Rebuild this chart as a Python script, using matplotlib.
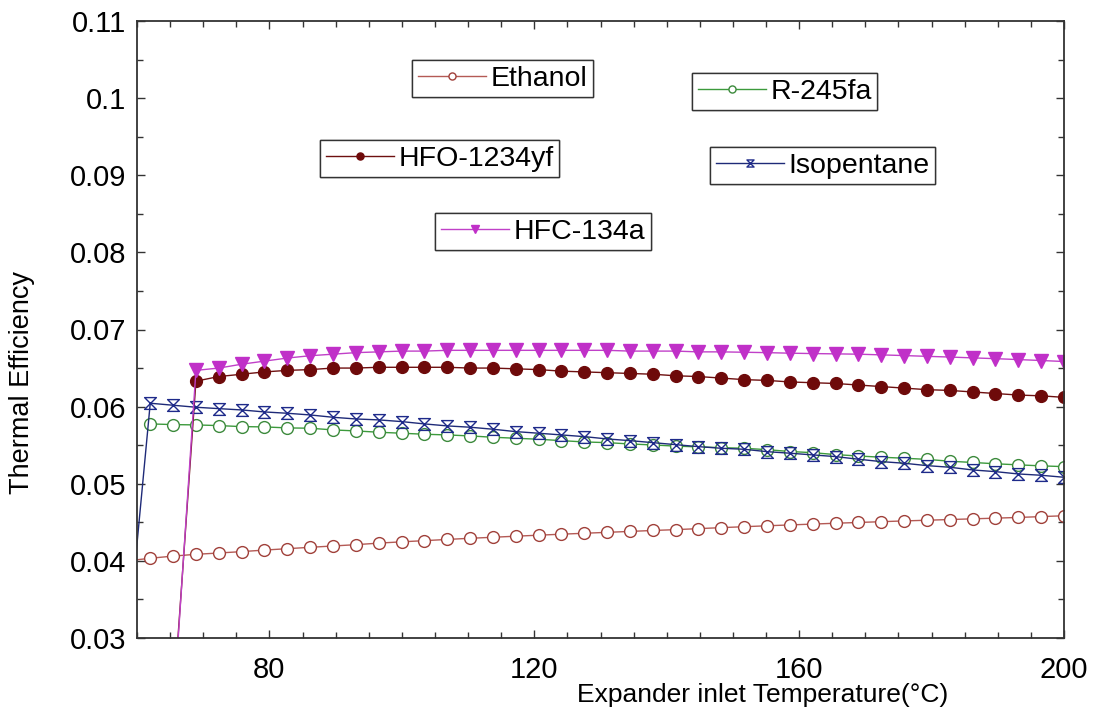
import numpy as np
import matplotlib
matplotlib.use("Agg")
import matplotlib.pyplot as plt
from matplotlib.path import Path
from matplotlib.ticker import MultipleLocator, FuncFormatter

plt.rcParams['font.family'] = ['Liberation Sans', 'DejaVu Sans']

# Expander inlet temperature (°C)
temperature = [58.55, 62.0, 65.45, 68.9, 72.35, 75.8, 79.25, 82.7, 86.15, 89.6, 93.05,
               96.5, 99.95, 103.4, 106.85, 110.3, 113.75, 117.2, 120.65, 124.1, 127.55,
               131.0, 134.45, 137.9, 141.35, 144.8, 148.25, 151.7, 155.15, 158.6, 162.05,
               165.5, 168.95, 172.4, 175.85, 179.3, 182.75, 186.2, 189.65, 193.1, 196.55, 200.0]

nan = float('nan')

ethanol = [0.0400,
           0.04034, 0.04062, 0.04085, 0.04102, 0.04120, 0.04140, 0.04158, 0.04176, 0.04193, 0.04210,
           0.04230, 0.04247, 0.04262, 0.04278, 0.04293, 0.04306, 0.04320, 0.04333, 0.04346, 0.04358,
           0.04370, 0.04382, 0.04394, 0.04405, 0.04418, 0.04431, 0.04443, 0.04455, 0.04466, 0.04477,
           0.04488, 0.04498, 0.04508, 0.04518, 0.04527, 0.04536, 0.04545, 0.04554, 0.04563, 0.04574,
           0.04585]

r245fa = [nan,
          0.05776, 0.05767, 0.05763, 0.05754, 0.05741, 0.05737, 0.05724, 0.05720, 0.05698, 0.05685,
          0.05668, 0.05655, 0.05642, 0.05633, 0.05620, 0.05603, 0.05590, 0.05577, 0.05559, 0.05542,
          0.05533, 0.05516, 0.05503, 0.05488, 0.05478, 0.05468, 0.05460, 0.05442, 0.05418, 0.05403,
          0.05378, 0.05360, 0.05344, 0.05331, 0.05316, 0.05292, 0.05276, 0.05259, 0.05245, 0.05232,
          0.05222]

hfo1234yf = [nan, nan, 0.0210,
             0.0633, 0.0639, 0.0642, 0.0645, 0.0647, 0.0648, 0.0650, 0.0650, 0.0651, 0.0651,
             0.0651, 0.0651, 0.0650, 0.0650, 0.0649, 0.0648, 0.0646, 0.0645, 0.0644, 0.0643,
             0.0642, 0.0640, 0.0639, 0.0637, 0.0635, 0.0634, 0.0632, 0.0631, 0.0630, 0.0628,
             0.0626, 0.0624, 0.0622, 0.0621, 0.0619, 0.0617, 0.0615, 0.0614, 0.0612]

isopentane = [0.0290,
              0.06044, 0.06018, 0.05992, 0.05974, 0.05957, 0.05931, 0.05914, 0.05892, 0.05862, 0.05840,
              0.05828, 0.05806, 0.05776, 0.05750, 0.05733, 0.05707, 0.05676, 0.05655, 0.05633, 0.05611,
              0.05581, 0.05559, 0.05533, 0.05507, 0.05481, 0.05460, 0.05447, 0.05416, 0.05396, 0.05374,
              0.05352, 0.05318, 0.05287, 0.05266, 0.05235, 0.05214, 0.05179, 0.05157, 0.05127, 0.05110,
              0.05084]

hfc134a = [nan, nan, 0.0200,
           0.0647, 0.0650, 0.0655, 0.0659, 0.0663, 0.0666, 0.0668, 0.0670, 0.0671, 0.0672,
           0.0672, 0.0673, 0.0673, 0.0673, 0.0673, 0.0673, 0.0673, 0.0673, 0.0673, 0.0672,
           0.0672, 0.0672, 0.0671, 0.0671, 0.06705, 0.0670, 0.06693, 0.06688, 0.06684, 0.0668,
           0.06671, 0.06662, 0.06652, 0.06643, 0.06632, 0.06622, 0.06610, 0.06598, 0.06585]

# hourglass marker
hourglass = Path([(-1, 1), (1, 1), (-1, -1), (1, -1), (-1, 1)],
                 [Path.MOVETO, Path.LINETO, Path.LINETO, Path.LINETO, Path.CLOSEPOLY])

W, H = 1097, 710
fig = plt.figure(figsize=(W / 100, H / 100), dpi=100)
ax = fig.add_axes([137 / W, 1 - 638 / H, (1064 - 137) / W, (638 - 21) / H])

series = [
    ("Ethanol", ethanol, dict(color="#b45a55", marker="o", mfc="white", mec="#a0403a", ms=8.5, mew=1.0)),
    ("R-245fa", r245fa, dict(color="#3c9a3c", marker="o", mfc="white", mec="#3c8a3c", ms=8.5, mew=1.0)),
    ("HFO-1234yf", hfo1234yf, dict(color="#6e1010", marker="o", mfc="#6e0a0a", mec="#6e0a0a", ms=8.5, mew=1.0)),
    ("Isopentane", isopentane, dict(color="#1e2a78", marker=hourglass, mfc="none", mec="#1e2a8a", ms=8.5, mew=1.0)),
    ("HFC-134a", hfc134a, dict(color="#c040c8", marker="v", mfc="#c030c8", mec="#c030c8", ms=10, mew=1.0)),
]

lines = {}
for name, vals, st in series:
    ln, = ax.plot(temperature, vals, lw=1.0, label=name, clip_on=True, **st)
    lines[name] = ln

ax.set_xlim(60, 200)
ax.set_ylim(0.03, 0.11)
ax.xaxis.set_major_locator(MultipleLocator(40))
ax.xaxis.set_minor_locator(MultipleLocator(5))
ax.yaxis.set_major_locator(MultipleLocator(0.01))
ax.yaxis.set_minor_locator(MultipleLocator(0.005))
ax.yaxis.set_major_formatter(FuncFormatter(lambda v, p: ("%.2f" % v).rstrip('0') if abs(v - 0.1) > 1e-9 else "0.1"))
ax.tick_params(which='both', direction='in', top=True, right=True, labelsize=21, color="#333333")
ax.tick_params(which='major', length=6, width=1.0)
ax.tick_params(which='minor', length=4, width=1.0)
ax.tick_params(axis='y', which='major', pad=8)
ax.tick_params(axis='x', which='major', pad=13)
for sp in ax.spines.values():
    sp.set_linewidth(1.3)
    sp.set_color("#333333")

fig.text(763 / W, 1 - 702 / H, "Expander inlet Temperature(°C)", ha='center', va='baseline', fontsize=19)
fig.text(22 / W, 1 - 383 / H, "Thermal Efficiency", ha='center', va='center', rotation=90, fontsize=19.5)

# separate legend boxes (upper-left corners in pixels)
legend_pos = {
    "Ethanol": (412, 60),
    "R-245fa": (692, 73),
    "HFO-1234yf": (320, 140),
    "Isopentane": (710, 147),
    "HFC-134a": (435, 213),
}
for name, (px, py) in legend_pos.items():
    lg = fig.legend(handles=[lines[name]], loc='upper left',
                    bbox_to_anchor=(px / W, 1 - py / H), bbox_transform=fig.transFigure,
                    fontsize=20.5, frameon=True, fancybox=False, edgecolor='#333333',
                    framealpha=1, borderpad=0.2, handlelength=2.4, handletextpad=0.15,
                    markerscale=0.6, borderaxespad=0)
    lg.get_frame().set_linewidth(1.0)
    fig.add_artist(lg)

fig.savefig("out.png", dpi=100)
